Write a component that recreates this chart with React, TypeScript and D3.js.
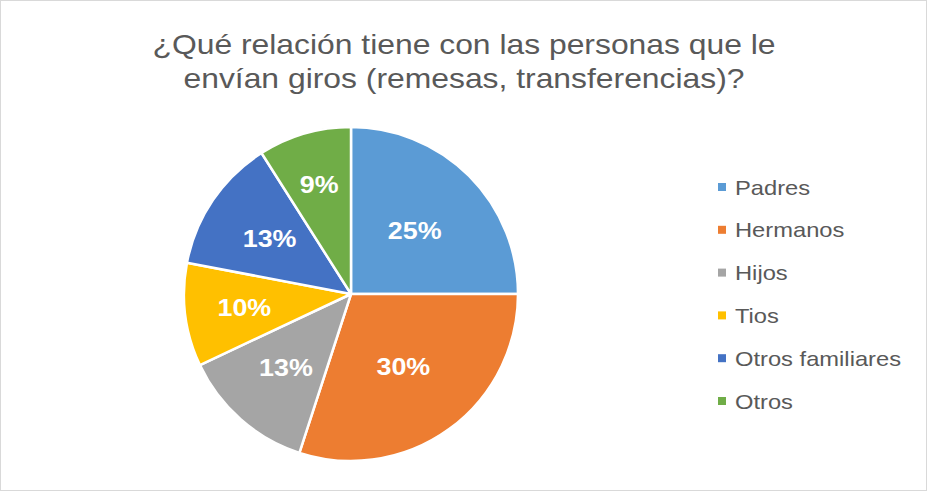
import React, { useEffect, useRef } from 'react';
import * as d3 from 'd3';

const categories = ['Padres', 'Hermanos', 'Hijos', 'Tios', 'Otros familiares', 'Otros'];
const values = [25, 30, 13, 10, 13, 9];
const colors = ['#5B9BD5', '#ED7D31', '#A5A5A5', '#FFC000', '#4472C4', '#70AD47'];
const titleLines = ['¿Qué relación tiene con las personas que le', 'envían giros (remesas, transferencias)?'];

const W = 927;
const H = 491;
const FONT = 'Arial, "Liberation Sans", sans-serif';

const App = () => {
  const svgRef = useRef<SVGSVGElement>(null);

  useEffect(() => {
    const svg = d3.select(svgRef.current).attr('width', W).attr('height', H);
    svg.selectAll('*').remove();

    svg.append('rect')
      .attr('x', 0.5).attr('y', 0.5)
      .attr('width', W - 1).attr('height', H - 1)
      .attr('fill', '#fff').attr('stroke', '#d9d9d9');

    // title, a bit wider than plain Arial
    svg.selectAll('.title')
      .data(titleLines)
      .enter().append('text')
      .attr('transform', (_, i) => `translate(464,${54 + i * 34}) scale(1.18,1)`)
      .attr('text-anchor', 'middle')
      .attr('font-family', FONT)
      .attr('font-size', 27)
      .attr('fill', '#595959')
      .text(d => d);

    const cx = 351, cy = 294, r = 167;
    const data = categories.map((c, i) => ({ name: c, value: values[i], color: colors[i] }));
    const pie = d3.pie<any>().sort(null).value(d => d.value);
    const arc = d3.arc<any>().innerRadius(0).outerRadius(r);

    const g = svg.append('g').attr('transform', `translate(${cx},${cy})`);
    const arcs = pie(data);

    g.selectAll('path')
      .data(arcs)
      .enter().append('path')
      .attr('d', arc)
      .attr('fill', d => d.data.color)
      .attr('stroke', '#fff')
      .attr('stroke-width', 2.5)
      .attr('stroke-linejoin', 'round');

    // "best fit": narrow slices push the label further out
    const labelPos = (d: any) => {
      const span = (d.endAngle - d.startAngle) * 180 / Math.PI;
      const lr = 85 + 360 / Math.max(span - 20, 4);
      const a = (d.startAngle + d.endAngle) / 2;
      return [Math.sin(a) * lr, -Math.cos(a) * lr];
    };

    g.selectAll('.lbl')
      .data(arcs)
      .enter().append('text')
      .attr('transform', d => `translate(${labelPos(d)}) scale(1.12,1)`)
      .attr('text-anchor', 'middle')
      .attr('dy', '0.36em')
      .attr('font-family', FONT)
      .attr('font-weight', 'bold')
      .attr('font-size', 24)
      .attr('fill', '#fff')
      .text(d => `${d.data.value}%`);

    const leg = svg.append('g').attr('transform', 'translate(718,0)');
    const items = leg.selectAll('.leg')
      .data(data)
      .enter().append('g')
      .attr('transform', (_, i) => `translate(0,${187 + i * 42.8})`);
    items.append('rect')
      .attr('x', 0).attr('y', -4)
      .attr('width', 8).attr('height', 8)
      .attr('fill', d => d.color);
    items.append('text')
      .attr('transform', 'translate(17,0) scale(1.13,1)')
      .attr('dy', '0.36em')
      .attr('font-family', FONT)
      .attr('font-size', 21)
      .attr('fill', '#595959')
      .text(d => d.name);
  }, []);

  return <svg ref={svgRef} style={{ display: 'block', position: 'absolute', left: 0, top: 0 }}></svg>;
};

export default App;
